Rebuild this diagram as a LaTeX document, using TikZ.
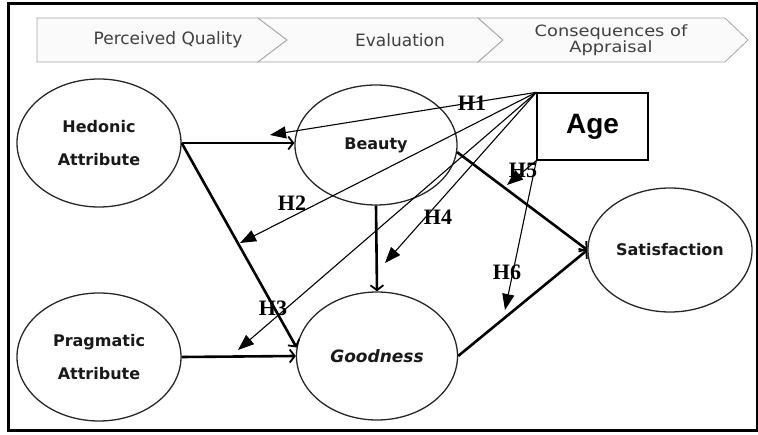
\documentclass[tikz,border=0pt]{standalone}
\usepackage{fontspec}
\setmainfont{DejaVu Sans}
\newfontfamily\hypfont{Liberation Serif}
\newfontfamily\agefont{Liberation Sans}
\newfontfamily\widefont[FakeStretch=1.15]{DejaVu Sans}
\usetikzlibrary{shapes.geometric,arrows.meta}

\begin{document}
\begin{tikzpicture}[x=1pt,y=-1pt]
	\tikzstyle{construct}=[ellipse,draw=black!85,line width=1.3pt,minimum width=164pt,minimum height=128pt,inner sep=0pt,align=center,
	font=\fontsize{16}{33}\selectfont\bfseries,text=black!90]
	\tikzstyle{stage}=[fill=black!2,draw=black!35,line width=0.8pt]
	\tikzstyle{stagetext}=[text=black!75,font=\fontsize{17}{17}\selectfont,align=center]
	\tikzstyle{effect}=[line width=2.6pt,-{Straight Barb[length=5pt,width=13pt,line width=1.8pt]}]
	\tikzstyle{moderation}=[line width=1.1pt,-{Triangle[length=16pt,width=12pt]}]
	\tikzstyle{hyp}=[font=\hypfont\fontsize{22}{22}\selectfont\bfseries,inner sep=0pt]

	\useasboundingbox (0,0) rectangle (758,435);
	\draw[line width=3pt] (8,4) rectangle (757,431);

	\draw[stage] (37,18) -- (258,18) -- (287,40) -- (258,62) -- (37,62) -- cycle;
	\draw[stage] (258,18) -- (478,18) -- (503,40) -- (478,62) -- (258,62) -- (287,40) -- cycle;
	\draw[stage] (478,18) -- (725,18) -- (748,40) -- (725,62) -- (478,62) -- (503,40) -- cycle;
	\node[stagetext] (quality) at (168,40) {Perceived Quality};
	\node[stagetext] (evaluation) at (400,40) {Evaluation};
	\node[stagetext,font=\widefont\fontsize{15.5}{15.5}\selectfont] (appraisal) at (611,40) {Consequences of\\Appraisal};

	\node[construct] (hedonic) at (99,143) {Hedonic\\Attribute};
	\node[construct] (pragmatic) at (99,357) {Pragmatic\\Attribute};
	\node[construct,minimum width=162pt,minimum height=120pt] (beauty) at (376,145) {Beauty};
	\node[construct,minimum width=161pt,font=\fontsize{17}{17}\selectfont\bfseries\itshape] (goodness) at (377,356) {Goodness};
	\node[construct,minimum height=124pt] (satisfaction) at (670,250) {Satisfaction};
	\node[draw,line width=1.3pt,minimum width=111pt,minimum height=67pt,
	font=\agefont\fontsize{28}{28}\selectfont\bfseries] (age) at (592.5,126.5) {Age};

	\draw[effect] (hedonic.east) -- (hedonic.east -| beauty.west);
	\draw[effect] (hedonic.east) -- (goodness.174);
	\draw[effect] (pragmatic.east) -- (goodness.west);
	\draw[effect] (beauty.south) -- (goodness.north);
	\draw[effect] (beauty.-5) -- (satisfaction.west);
	\draw[effect] (goodness.east) -- (satisfaction.west);

	\coordinate (h1tip) at (270,135);
	\coordinate (h2tip) at (240,243);
	\coordinate (h3tip) at (238,350);
	\coordinate (h4tip) at (385,263);
	\coordinate (h5tip) at (507,185);
	\coordinate (h6tip) at (505,310);
	\draw[moderation] (age.north west) -- (h1tip);
	\draw[moderation] (age.north west) -- (h2tip);
	\draw[moderation] (age.north west) -- (h3tip);
	\draw[moderation] (age.north west) -- (h4tip);
	\draw[moderation] (age.south west) -- (h5tip);
	\draw[moderation] (age.south west) -- (h6tip);

	\node[hyp] (h1) at (472,103) {H1};
	\node[hyp] (h2) at (292,203) {H2};
	\node[hyp] (h3) at (273,308) {H3};
	\node[hyp] (h4) at (438,217) {H4};
	\node[hyp] (h5) at (523,170) {H5};
	\node[hyp] (h6) at (507,272) {H6};
\end{tikzpicture}
\end{document}
